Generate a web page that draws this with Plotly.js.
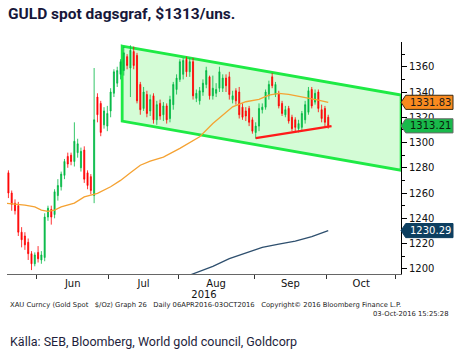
<!DOCTYPE html>
<html>
<head>
<meta charset="utf-8">
<script src="https://cdn.plot.ly/plotly-3.0.1.min.js"></script>
<style>
  html, body { margin: 0; padding: 0; background: #fff; }
  #chart { width: 460px; height: 353px; }
</style>
</head>
<body>
<div id="chart"></div>
<script>
// Trading-day index (weekdays counted from 2 May 2016 = 0)
const tradingDay = [];
for (let d = 13; d <= 110; d++) tradingDay.push(d);

const open = [1276,1260,1252,1250,1229,1226,1221,1212,1204,1213,1207,1209,1241,1247,1243,1258,1265,1274,1289,1290,
  1285,1292,1280,1294,1276,1273,1258,1336,1331,1314,1313,1325,1339,1347,1354,1357,1368,1359,1372,1369,
  1346,1327,1338,1325,1337,1318,1331,1322,1329,1319,1330,1342,1350,1354,1366,1356,1364,1335,1333,1340,
  1346,1352,1337,1339,1343,1343,1351,1352,1334,1341,1340,1328,1325,1327,1318,1308,1313,1326,1328,1337,
  1352,1338,1339,1331,1322,1327,1320,1318,1311,1312,1318,1324,1342,1332,1340,1326,1327,1320];
const high = [1278,1262,1255,1253,1233,1229,1224,1214,1213,1218,1214,1244,1250,1250,1263,1271,1277,1287,1292,1292,
  1316,1303,1296,1297,1278,1275,1359,1339,1333,1328,1329,1343,1358,1360,1366,1376,1370,1377,1376,1371,
  1348,1344,1341,1338,1339,1333,1334,1332,1331,1337,1348,1354,1366,1367,1368,1367,1367,1342,1344,1350,
  1360,1353,1353,1347,1360,1354,1354,1356,1341,1343,1344,1331,1328,1329,1320,1316,1331,1331,1342,1349,
  1355,1348,1341,1333,1329,1329,1322,1320,1318,1325,1333,1344,1344,1342,1342,1330,1329,1322];
const low = [1256,1246,1243,1226,1217,1215,1207,1199,1202,1205,1204,1206,1238,1235,1240,1254,1262,1271,1280,1282,
  1281,1288,1277,1268,1263,1259,1252,1316,1305,1311,1309,1320,1336,1344,1350,1353,1358,1336,1358,1331,
  1322,1325,1320,1321,1315,1314,1318,1317,1315,1316,1326,1338,1348,1350,1352,1352,1334,1332,1330,1337,
  1343,1334,1334,1336,1340,1340,1340,1334,1331,1330,1319,1318,1317,1313,1307,1303,1309,1323,1326,1334,
  1343,1336,1327,1321,1320,1315,1309,1309,1308,1309,1315,1322,1327,1330,1324,1316,1313,1311];
const close = [1260,1251,1246,1229,1223,1219,1212,1204,1211,1208,1211,1241,1248,1241,1261,1266,1275,1285,1283,1285,
  1301,1299,1293,1271,1266,1262,1318,1322,1308,1325,1323,1340,1356,1357,1364,1371,1361,1373,1361,1333,
  1326,1340,1323,1334,1318,1330,1321,1329,1318,1334,1346,1351,1364,1365,1356,1364,1337,1339,1341,1347,
  1357,1337,1343,1342,1356,1351,1345,1338,1337,1333,1322,1320,1321,1316,1309,1313,1327,1328,1340,1346,
  1345,1346,1329,1323,1326,1317,1311,1312,1315,1323,1330,1341,1329,1339,1327,1319,1316,1313.21];

// Moving averages
const orangeX = [12,18,21,23,25,27,29,33,36,40,44,47,50,53,56,60,65,71,75,78,81,85,89,92,95,98,101,104,107,110];
const orangeY = [1252,1250.5,1249,1246.5,1245.5,1246.5,1249,1252,1257,1259.7,1265,1270,1276,1282,1285.3,1288.5,1295.4,1304.6,1315,1321.7,1328.3,1332.3,1334.2,1337.6,1338.9,1338.1,1336.8,1335,1333.6,1331.83];
const blueX = [66,70,75,80,85,90,95,100,105,110];
const blueY = [1193,1197,1202,1208,1212.5,1217,1219.6,1222,1225.5,1230.29];

// Trend channel and support line
const channelX = [47.5, 132.1];
const channelUpper = [1376.4, 1337.6];
const channelLower = [1317, 1278];
const supportX = [88, 111];
const supportY = [1303.5, 1313];

// Axis labels
const monthBoundary = [21.5, 43.5, 64.5, 87.5, 109.5, 130.5];
const monthPos = [32.5, 54, 76, 98.5, 120];
const monthLabels = ['Jun', 'Jul', 'Aug', 'Sep', 'Oct'];
const yTicks = [1200, 1220, 1240, 1260, 1280, 1300, 1320, 1340, 1360];

// Last-value tags
const tagValues = [1331.83, 1313.21, 1230.29];
const tagFill = ['#f98a1f', '#19b94b', '#0d3f60'];
const tagLine = ['#3a2a10', '#6b6b6b', '#0d3f60'];
const tagText = ['#1a1a1a', '#0a1a0a', '#ffffff'];

const traces = [
  {
    type: 'scatter', mode: 'lines', x: orangeX, y: orangeY,
    line: { color: '#f5a232', width: 1.3 }, hoverinfo: 'skip', showlegend: false
  },
  {
    type: 'scatter', mode: 'lines', x: blueX, y: blueY,
    line: { color: '#2e4f6e', width: 1.3 }, hoverinfo: 'skip', showlegend: false
  },
  {
    type: 'candlestick', x: tradingDay, open: open, high: high, low: low, close: close,
    increasing: { line: { color: '#00b843', width: 0.8 }, fillcolor: '#00b843' },
    decreasing: { line: { color: '#ff0000', width: 0.8 }, fillcolor: '#ff0000' },
    whiskerwidth: 0, hoverinfo: 'skip', showlegend: false
  },
  {
    type: 'scatter', mode: 'lines', x: supportX, y: supportY,
    line: { color: '#ff1a1a', width: 2.3 }, hoverinfo: 'skip', showlegend: false
  },
  {
    type: 'scatter', mode: 'lines', x: monthBoundary, y: monthBoundary.map(() => null),
    xaxis: 'x2', hoverinfo: 'skip', showlegend: false
  }
];

// Channel drawn under the candles, built from the channel arrays
const channelShape = {
  type: 'path', xref: 'x', yref: 'y', layer: 'below',
  path: `M ${channelX[0]},${channelUpper[0]} L ${channelX[1]},${channelUpper[1]} L ${channelX[1]},${channelLower[1]} L ${channelX[0]},${channelLower[0]} Z`,
  fillcolor: 'rgb(212,252,214)', line: { color: '#1eea45', width: 2.8 }
};

// geometry of tags (paper units for x, data units for y)
const tipW = 0.012, tagW = 0.132, tagH = 5.6;
const shapes = [channelShape].concat(tagValues.map((v, i) => ({
  type: 'path', xref: 'paper', yref: 'y', layer: 'above',
  path: `M 1,${v} L ${1 + tipW},${v + tagH} L ${1 + tagW},${v + tagH} L ${1 + tagW},${v - tagH} L ${1 + tipW},${v - tagH} Z`,
  fillcolor: tagFill[i], line: { color: tagLine[i], width: 1 }
})));

const annotations = tagValues.map((v, i) => ({
  xref: 'paper', yref: 'y', x: 1 + (tipW + tagW) / 2 + 0.002, y: v,
  text: v.toFixed(2), showarrow: false, xanchor: 'center', yanchor: 'middle',
  font: { family: 'DejaVu Sans, sans-serif', size: 10, color: tagText[i] }
}));

annotations.push(
  {
    xref: 'paper', yref: 'paper', x: 0.0025, y: -0.134, xanchor: 'left', yanchor: 'middle',
    text: 'XAU Curncy (Gold Spot   $/Oz) Graph 26   Daily 06APR2016-03OCT2016   Copyright© 2016 Bloomberg Finance L.P.',
    showarrow: false, font: { family: 'DejaVu Sans, sans-serif', size: 6.8, color: '#222' }
  },
  {
    xref: 'paper', yref: 'paper', x: 1.124, y: -0.172, xanchor: 'right', yanchor: 'middle',
    text: '03-Oct-2016 15:25:28',
    showarrow: false, font: { family: 'DejaVu Sans, sans-serif', size: 6.8, color: '#222' }
  },
  {
    xref: 'paper', yref: 'paper', x: 0.0025, y: -0.293, xanchor: 'left', yanchor: 'middle',
    text: 'Källa: SEB, Bloomberg, World gold council, Goldcorp',
    showarrow: false, font: { family: 'Liberation Sans Narrow, Arial Narrow, Roboto, sans-serif', size: 12.5, color: '#1e1e3c' }
  }
);

const layout = {
  width: 460, height: 353,
  margin: { l: 7, r: 59, t: 42, b: 79, pad: 0 },
  paper_bgcolor: '#ffffff', plot_bgcolor: '#ffffff',
  showlegend: false,
  boxgap: 0.55,
  title: {
    text: '<b>GULD spot dagsgraf, $1313/uns.</b>',
    xref: 'container', yref: 'container', x: 8 / 460, xanchor: 'left',
    y: 1 - 8 / 353, yanchor: 'top',
    font: { family: 'Liberation Sans Narrow, Arial Narrow, Roboto, sans-serif', size: 15.5, color: '#17173a' }
  },
  xaxis: {
    range: [12.57, 132.07], rangeslider: { visible: false },
    tickmode: 'array', tickvals: monthPos, ticktext: monthLabels, ticks: '',
    showgrid: false, zeroline: false, showline: true, linecolor: '#666', linewidth: 1,
    tickfont: { family: 'DejaVu Sans, sans-serif', size: 10, color: '#111' },
    title: { text: '2016', standoff: 2, font: { family: 'DejaVu Sans, sans-serif', size: 10, color: '#111' } },
    fixedrange: true
  },
  xaxis2: {
    overlaying: 'x', matches: 'x', anchor: 'y', side: 'bottom',
    tickmode: 'array', tickvals: monthBoundary, ticks: 'outside', ticklen: 4, tickcolor: '#333',
    showticklabels: false, showgrid: false, zeroline: false, showline: false
  },
  yaxis: {
    side: 'right', range: [1195.9, 1379.6],
    tickmode: 'array', tickvals: yTicks, ticks: 'outside', ticklen: 5, tickcolor: '#000',
    minor: { dtick: 10, ticks: 'outside', ticklen: 3, tickcolor: '#000', showgrid: false },
    showgrid: false, zeroline: false, showline: true, linecolor: '#000', linewidth: 1,
    tickfont: { family: 'DejaVu Sans, sans-serif', size: 10, color: '#111' },
    fixedrange: true
  },
  shapes: shapes,
  annotations: annotations
};

Plotly.newPlot('chart', traces, layout, { staticPlot: true, displayModeBar: false });
</script>
</body>
</html>
